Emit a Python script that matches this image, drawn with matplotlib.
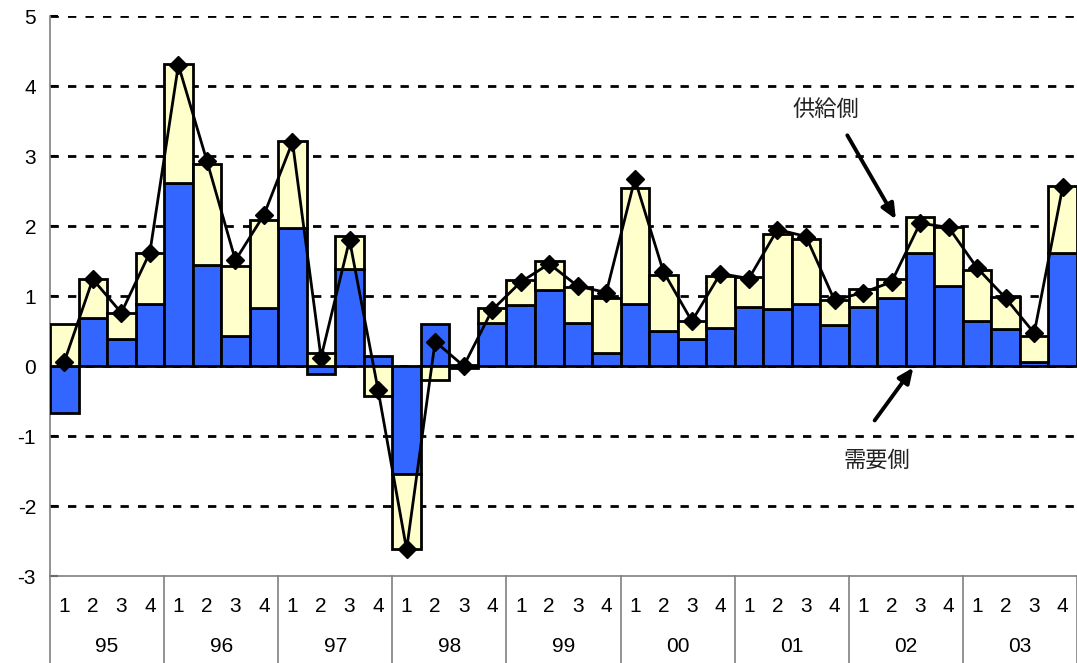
import numpy as np
import matplotlib.pyplot as plt
import matplotlib.transforms as mtransforms

plt.rcParams['font.family'] = ['Liberation Sans', 'DejaVu Sans']

## data: 1995Q1 .. 2003Q4
years = ['95', '96', '97', '98', '99', '00', '01', '02', '03']
quarters = ['1', '2', '3', '4']

demand = [-0.67, 0.68, 0.38, 0.89,
          2.62, 1.44, 0.43, 0.83,
          1.97, -0.12, 1.39, 0.15,
          -1.54, 0.60, -0.03, 0.62,
          0.87, 1.08, 0.62, 0.19,
          0.89, 0.50, 0.39, 0.54,
          0.84, 0.82, 0.88, 0.59,
          0.85, 0.97, 1.61, 1.15,
          0.65, 0.53, 0.06, 1.61]

supply = [0.60, 0.56, 0.38, 0.73,
          1.70, 1.44, 1.00, 1.25,
          1.24, 0.19, 0.47, -0.43,
          -1.08, -0.20, 0.01, 0.21,
          0.36, 0.42, 0.51, 0.78,
          1.65, 0.80, 0.26, 0.74,
          0.43, 1.06, 0.94, 0.35,
          0.25, 0.28, 0.52, 0.83,
          0.72, 0.46, 0.37, 0.96]

total = [0.06, 1.24, 0.76, 1.62,
         4.30, 2.93, 1.51, 2.16,
         3.20, 0.12, 1.80, -0.34,
         -2.62, 0.35, 0.00, 0.80,
         1.20, 1.46, 1.14, 1.05,
         2.67, 1.35, 0.64, 1.32,
         1.25, 1.95, 1.85, 0.94,
         1.05, 1.20, 2.04, 1.98,
         1.40, 0.97, 0.47, 2.56]

demand = np.array(demand)
supply = np.array(supply)
x = np.arange(len(demand))

# yellow bar sits on top of blue when signs agree, otherwise starts at zero
supply_bottom = np.where(np.sign(supply) == np.sign(demand), demand, 0.0)

fig = plt.figure(figsize=(10.77, 6.63), dpi=100)
ax = fig.add_axes([50 / 1077, 87 / 663, 1 - 50 / 1077, 560 / 663])

ax.bar(x, demand, width=1.0, color='#3366ff', edgecolor='black', linewidth=2.0, zorder=3)
ax.bar(x, supply, bottom=supply_bottom, width=1.0, color='#ffffcc', edgecolor='black', linewidth=2.0, zorder=3)
ax.plot(x, total, color='black', linewidth=2.0, marker='D', markersize=9, zorder=5)

ax.set_xlim(-0.5, len(x) - 0.5)
ax.set_ylim(-3, 5)
ax.set_yticks(np.arange(-3, 6, 1))
ax.set_yticklabels([str(v) for v in range(-3, 6)], fontsize=15)
ax.set_xticks([])

for y in range(-2, 6):
    ax.axhline(y, color='black', linewidth=2.0, linestyle=(0, (3, 3.3)), zorder=1)

for side in ['top', 'right']:
    ax.spines[side].set_visible(False)
for side in ['left', 'bottom']:
    ax.spines[side].set_color('#808080')
    ax.spines[side].set_linewidth(1.2)
ax.tick_params(axis='y', direction='in', length=6, color='black', width=1.5, pad=10)

## category axis below the plot
trans = mtransforms.blended_transform_factory(ax.transData, ax.transAxes)
for i in x:
    ax.text(i, -0.054, quarters[i % 4], transform=trans, ha='center', va='center',
            fontsize=15, clip_on=False)
for k, yr in enumerate(years):
    ax.text(k * 4 + 1.5, -0.125, yr, transform=trans, ha='center', va='center',
            fontsize=15, clip_on=False)
for k in range(1, len(years) + 1):
    ax.plot([k * 4 - 0.5, k * 4 - 0.5], [0, -0.16], transform=trans, color='#808080',
            linewidth=1.2, clip_on=False)
ax.plot([-0.5, -0.5], [0, -0.16], transform=trans, color='#808080', linewidth=1.2, clip_on=False)

## annotations
jp = ['Noto Sans CJK JP', 'DejaVu Sans']
ax.text(26.7, 3.66, '供給側', family=jp, fontsize=16, color='#222222', ha='center', va='center')
ax.annotate('', xy=(29.2, 2.06), xytext=(27.4, 3.33),
            arrowprops=dict(arrowstyle='-|>,head_length=0.9,head_width=0.4', color='black', lw=2.8),
            zorder=6)
ax.text(28.5, -1.34, '需要側', family=jp, fontsize=16, color='#222222', ha='center', va='center')
ax.annotate('', xy=(29.82, 0.01), xytext=(28.35, -0.81),
            arrowprops=dict(arrowstyle='-|>,head_length=0.9,head_width=0.4', color='black', lw=2.8),
            zorder=6)

fig.savefig('out.png', dpi=100)
